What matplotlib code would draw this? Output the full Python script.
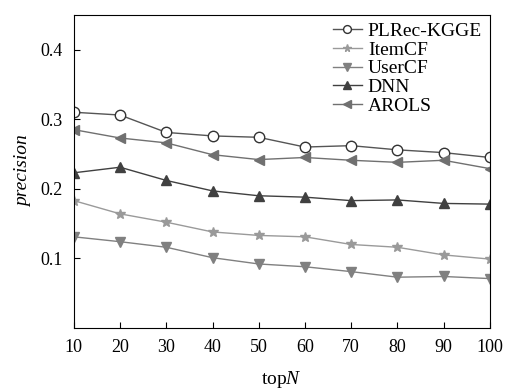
import matplotlib
matplotlib.use("Agg")
import matplotlib.pyplot as plt

plt.rcParams['font.family'] = ['Liberation Serif', 'DejaVu Serif']
plt.rcParams['mathtext.fontset'] = 'custom'
plt.rcParams['mathtext.rm'] = 'Liberation Serif'
plt.rcParams['mathtext.it'] = 'Liberation Serif:italic'

topN = [10, 20, 30, 40, 50, 60, 70, 80, 90, 100]
plrec = [0.310, 0.306, 0.281, 0.276, 0.274, 0.260, 0.262, 0.256, 0.252, 0.245]
itemcf = [0.183, 0.164, 0.152, 0.138, 0.133, 0.131, 0.120, 0.116, 0.105, 0.099]
usercf = [0.131, 0.124, 0.116, 0.101, 0.092, 0.088, 0.081, 0.073, 0.074, 0.071]
dnn = [0.223, 0.231, 0.212, 0.197, 0.190, 0.188, 0.183, 0.184, 0.179, 0.178]
arols = [0.285, 0.273, 0.266, 0.249, 0.242, 0.245, 0.241, 0.238, 0.241, 0.229]

fig = plt.figure(figsize=(5.06, 3.9), dpi=100)
ax = fig.add_axes([0.146, 0.159, 0.822, 0.803])

ax.plot(topN, plrec, color='#555555', lw=1, marker='o', ms=7.5, mfc='white', mec='#333333', mew=1, label='PLRec-KGGE')
ax.plot(topN, itemcf, color='#9a9a9a', lw=1, marker='*', ms=7.5, mfc='#9a9a9a', mec='#9a9a9a', label='ItemCF')
ax.plot(topN, usercf, color='#808080', lw=1, marker='v', ms=7.5, mfc='#808080', mec='#808080', label='UserCF')
ax.plot(topN, dnn, color='#404040', lw=1, marker='^', ms=7.5, mfc='#404040', mec='#404040', label='DNN')
ax.plot(topN, arols, color='#707070', lw=1, marker='<', ms=7.5, mfc='#707070', mec='#707070', label='AROLS')

ax.set_xlim(10, 100)
ax.set_ylim(0, 0.45)
ax.set_xticks(topN)
ax.set_yticks([0.1, 0.2, 0.3, 0.4])
ax.set_yticklabels(['0.1', '0.2', '0.3', '0.4'])
ax.tick_params(direction='in', labelsize=13, length=4, top=False, right=False, pad=8)
ax.set_xlabel(r'top$\mathit{N}$', fontsize=14, labelpad=9)
ax.set_ylabel('precision', fontsize=14, style='italic', labelpad=6)

ax.legend(loc='upper right', frameon=False, fontsize=14, handlelength=1.5, markerscale=0.75,
          handletextpad=0.3, labelspacing=0.05, borderaxespad=0.2, borderpad=0.2)

fig.savefig('out.png', dpi=100)
